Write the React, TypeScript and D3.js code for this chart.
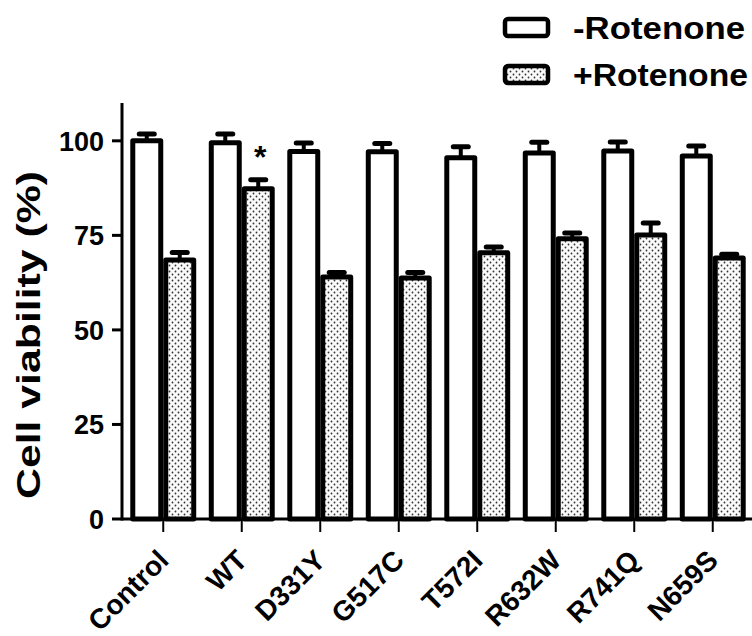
import React from 'react';
import * as d3 from 'd3';

const categories = ['Control', 'WT', 'D331Y', 'G517C', 'T572I', 'R632W', 'R741Q', 'N659S'];
const seriesNames = ['-Rotenone', '+Rotenone'];
const minusValues = [100, 99.5, 97.2, 97.1, 95.5, 96.8, 97.3, 96.0];
const minusErrors = [1.8, 2.3, 2.2, 2.2, 2.9, 2.8, 2.4, 2.6];
const plusValues = [68.5, 87.3, 64.0, 63.7, 70.4, 74.1, 75.1, 69.0];
const plusErrors = [2.0, 2.4, 1.2, 1.5, 1.5, 1.5, 3.2, 1.0];
const yTicks = [0, 25, 50, 75, 100];
const starred = ['WT'];

const font = 'Arial, "Liberation Sans", sans-serif';

export default function App() {
  const width = 752;
  const height = 636;
  const margins = { left: 122, right: 0, top: 103, bottom: 117 };

  const x0 = d3.scaleBand<string>()
    .domain(categories)
    .range([margins.left + 2, width])
    .paddingInner(0.16)
    .paddingOuter(0.08);
  const x1 = d3.scaleBand<string>()
    .domain(seriesNames)
    .range([0, x0.bandwidth()]);
  const y = d3.scaleLinear()
    .domain([0, 110])
    .range([height - margins.bottom, margins.top]);

  const rows = categories.map((c, i) => ({
    name: c,
    bars: [
      { s: seriesNames[0], v: minusValues[i], e: minusErrors[i] },
      { s: seriesNames[1], v: plusValues[i], e: plusErrors[i] },
    ],
  }));

  const base = y(0);
  const sw = 5;

  return (
    <svg width={width} height={height} style={{ position: 'absolute', left: 0, top: 0, background: '#fff' }}>
      <defs>
        <pattern id="dots" width="6" height="6" patternUnits="userSpaceOnUse">
          <rect width="6" height="6" fill="#fafafa" />
          <circle cx="1.5" cy="1.5" r="0.9" fill="#333" />
          <circle cx="4.5" cy="4.5" r="0.9" fill="#333" />
        </pattern>
      </defs>

      {/* error bars (drawn first so caps sit above bar tops) */}
      {rows.map(r => r.bars.map(b => {
        const cx = (x0(r.name) as number) + (x1(b.s) as number) + x1.bandwidth() / 2;
        const top = y(b.v + b.e);
        return (
          <g key={r.name + b.s + 'e'}>
            <line x1={cx} x2={cx} y1={y(b.v)} y2={top} stroke="#000" strokeWidth={4} />
            <rect x={cx - 10} y={top - 2.5} width={20} height={5} rx={2.5} fill="#000" />
          </g>
        );
      }))}

      {/* bars */}
      {rows.map(r => r.bars.map((b, j) => {
        const bx = (x0(r.name) as number) + (x1(b.s) as number);
        return (
          <rect
            key={r.name + b.s}
            x={bx + sw / 2}
            y={y(b.v)}
            width={x1.bandwidth() - sw}
            height={base - y(b.v)}
            fill={j === 0 ? '#fff' : 'url(#dots)'}
            stroke="#000"
            strokeWidth={sw}
            strokeLinejoin="round"
          />
        );
      }))}

      {/* significance */}
      {starred.map(c => {
        const i = categories.indexOf(c);
        const sx = (x0(c) as number) + (x1(seriesNames[1]) as number) + x1.bandwidth() / 2 + 2;
        return (
          <text key={c} x={sx} y={y(plusValues[i] + plusErrors[i]) - 12}
            fontFamily={font} fontWeight="bold" fontSize={32} textAnchor="middle" fill="#000">*</text>
        );
      })}

      {/* y axis */}
      <line x1={margins.left} x2={margins.left} y1={margins.top} y2={base + 1.5} stroke="#000" strokeWidth={3} />
      {yTicks.map(t => (
        <g key={t}>
          <line x1={margins.left - 10} x2={margins.left} y1={y(t)} y2={y(t)} stroke="#000" strokeWidth={3} />
          <text x={margins.left - 18} y={y(t)} dy="0.36em" textAnchor="end" fontFamily={font}
            fontWeight="bold" fontSize={27} fill="#000">{t}</text>
        </g>
      ))}
      <text transform={`translate(40, 335) rotate(-90)`} textAnchor="middle" fontFamily={font}
        fontWeight="bold" fontSize={33} textLength={328} lengthAdjust="spacingAndGlyphs"
        fill="#000">Cell viability (%)</text>

      {/* x axis */}
      <line x1={margins.left} x2={width} y1={base} y2={base} stroke="#000" strokeWidth={3} />
      {categories.map(c => {
        const cx = (x0(c) as number) + x0.bandwidth() / 2;
        return (
          <g key={c}>
            <line x1={cx} x2={cx} y1={base} y2={base + 13} stroke="#000" strokeWidth={2} />
            <text transform={`translate(${cx + 7}, 562) rotate(-45)`} textAnchor="end" fontFamily={font}
              fontWeight="bold" fontSize={28} fill="#000">{c}</text>
          </g>
        );
      })}

      {/* legend */}
      {seriesNames.map((s, i) => (
        <g key={s} transform={`translate(503, ${17 + i * 47})`}>
          <rect x={2} y={2} width={43} height={17} rx={3} fill={i === 0 ? '#fff' : 'url(#dots)'}
            stroke="#000" strokeWidth={4.5} />
          <text x={70} y={22} fontFamily={font} fontWeight="bold" fontSize={31}
            textLength={i === 0 ? 172 : 175} lengthAdjust="spacingAndGlyphs" fill="#000">{s}</text>
        </g>
      ))}
    </svg>
  );
}
